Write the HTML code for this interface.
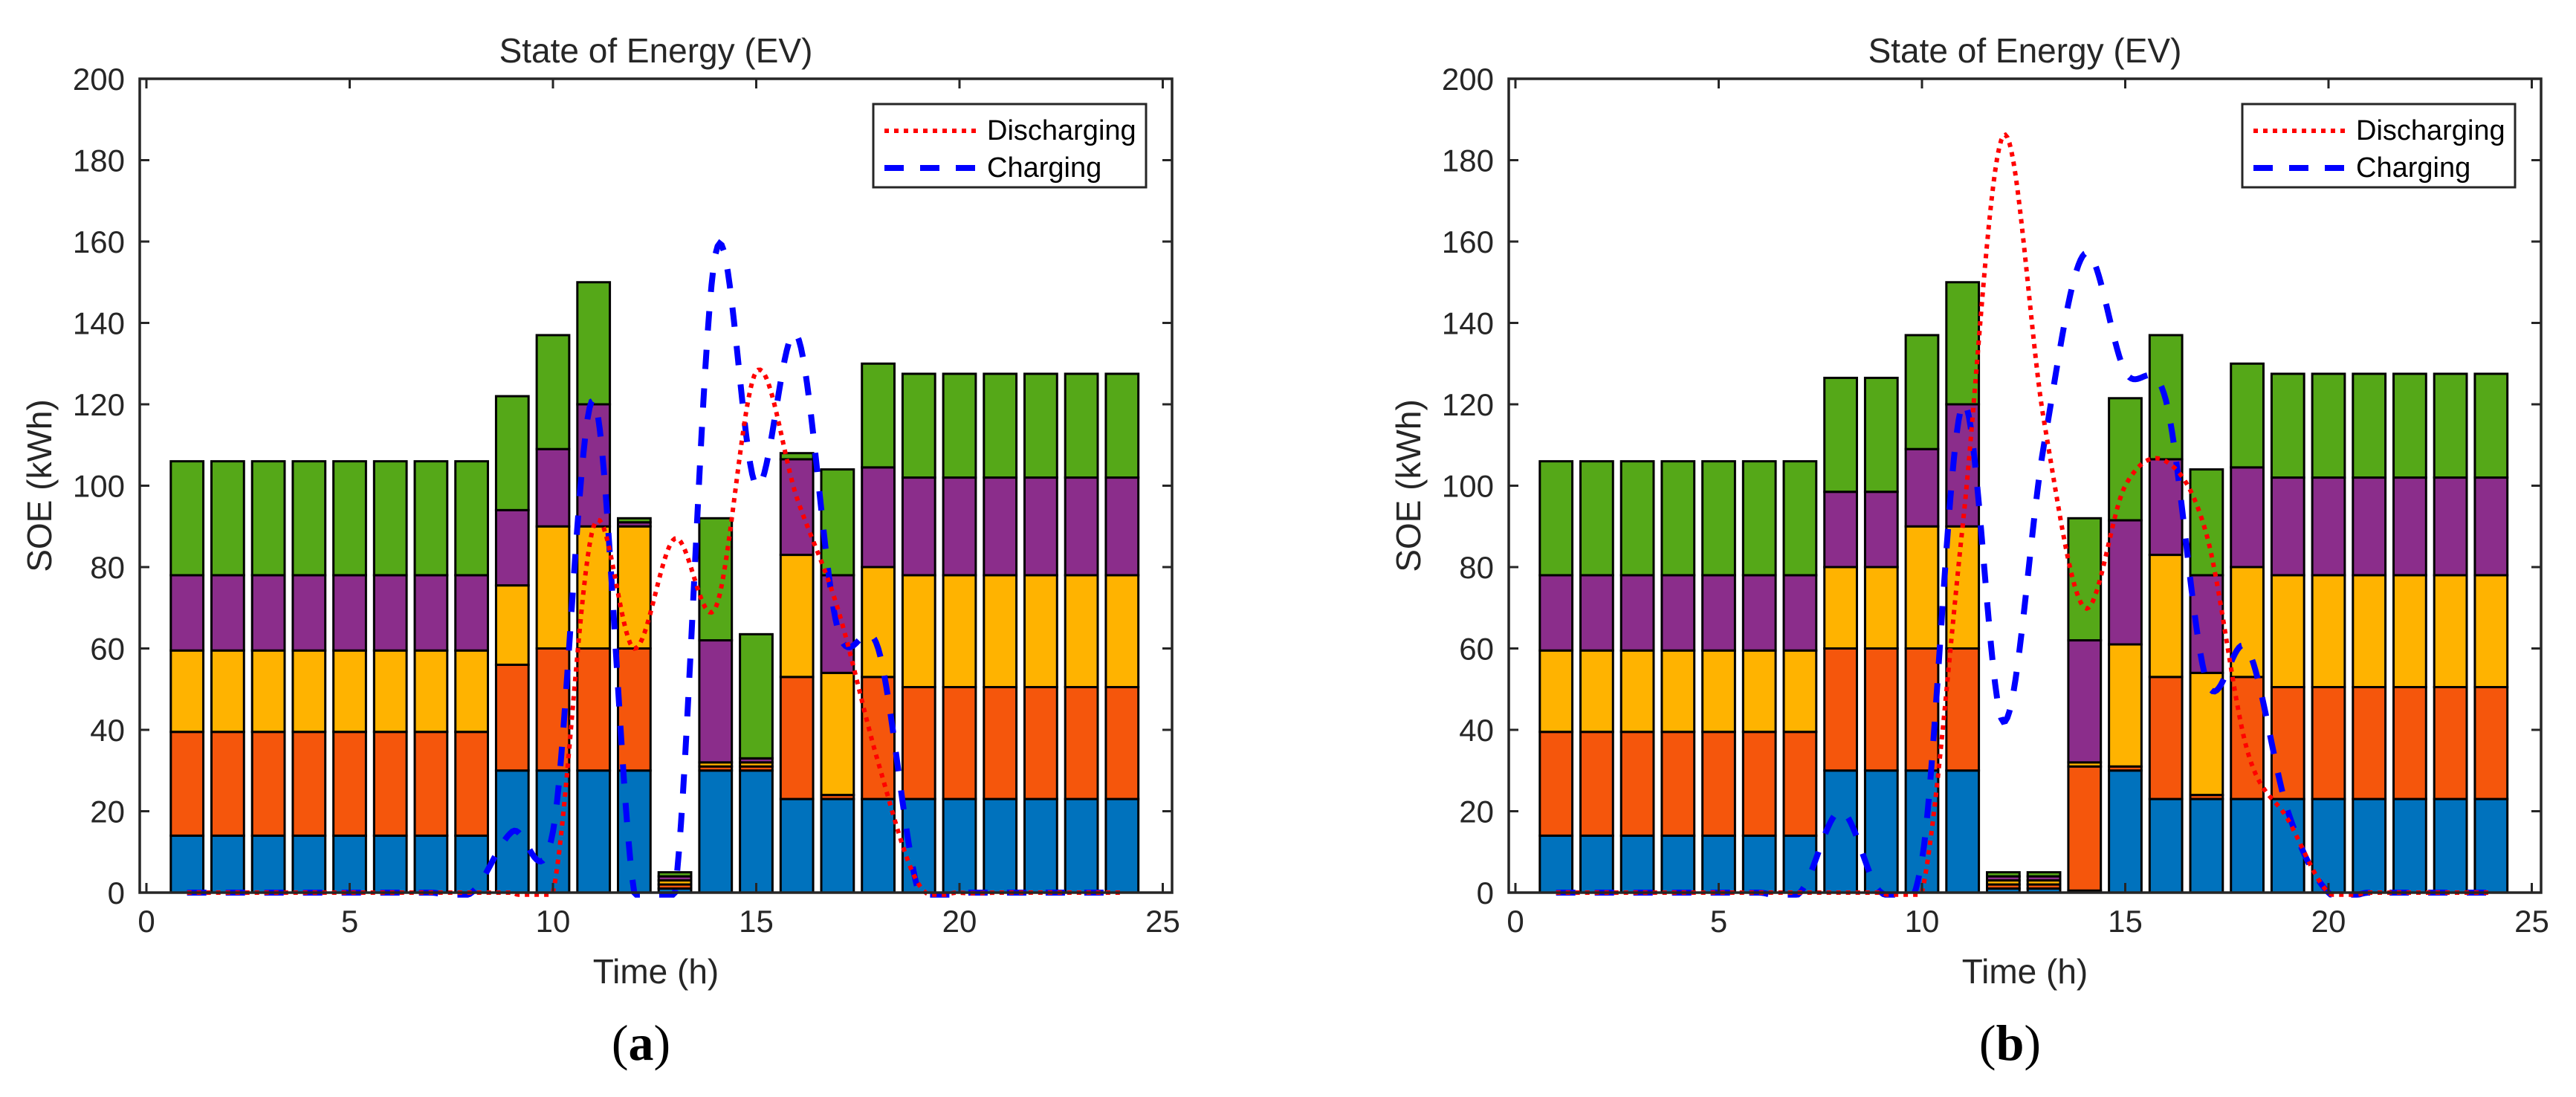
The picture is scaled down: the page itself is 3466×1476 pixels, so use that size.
<!DOCTYPE html>
<html><head><meta charset="utf-8"><style>
html,body{margin:0;padding:0;background:#fff;}
svg{display:block;font-family:"Liberation Sans",Arial,sans-serif;}
</style></head><body>
<svg id="fig" xmlns="http://www.w3.org/2000/svg" width="3466" height="1476" viewBox="0 0 3466 1476"></svg>
<script>
const hours=[1,2,3,4,5,6,7,8,9,10,11,12,13,14,15,16,17,18,19,20,21,22,23,24];
const xTicks=[0,5,10,15,20,25];
const yTicks=[0,20,40,60,80,100,120,140,160,180,200];
const seriesNames=["ev1","ev2","ev3","ev4","ev5"];
// panel (a) stacked segment values (kWh)
const aSeg1=[14,14,14,14,14,14,14,14,30,30,30,30,1,30,30,23,23,23,23,23,23,23,23,23];
const aSeg2=[25.5,25.5,25.5,25.5,25.5,25.5,25.5,25.5,26,30,30,30,1,1,1,30,1,30,27.5,27.5,27.5,27.5,27.5,27.5];
const aSeg3=[20,20,20,20,20,20,20,20,19.5,30,30,30,1,1,1,30,30,27,27.5,27.5,27.5,27.5,27.5,27.5];
const aSeg4=[18.5,18.5,18.5,18.5,18.5,18.5,18.5,18.5,18.5,19,30,1,1,30,1,23.5,24,24.5,24,24,24,24,24,24];
const aSeg5=[28,28,28,28,28,28,28,28,28,28,30,1,1,30,30.5,1.5,26,25.5,25.5,25.5,25.5,25.5,25.5,25.5];
const aDischarging=[0,0,0,0,0,0,0,0,0,0,90,60,87,70,128,97,70,32,2,0,0,0,0,0];
const aCharging=[0,0,0,0,0,0,0,0,15,15,121,0,0,157,100,137,65,60,0,0,0,0,0,0];
// panel (b)
const bSeg1=[14,14,14,14,14,14,14,30,30,30,30,1,1,0.5,30,23,23,23,23,23,23,23,23,23];
const bSeg2=[25.5,25.5,25.5,25.5,25.5,25.5,25.5,30,30,30,30,1,1,30.5,1,30,1,30,27.5,27.5,27.5,27.5,27.5,27.5];
const bSeg3=[20,20,20,20,20,20,20,20,20,30,30,1,1,1,30,30,30,27,27.5,27.5,27.5,27.5,27.5,27.5];
const bSeg4=[18.5,18.5,18.5,18.5,18.5,18.5,18.5,18.5,18.5,19,30,1,1,30,30.5,23.5,24,24.5,24,24,24,24,24,24];
const bSeg5=[28,28,28,28,28,28,28,28,28,28,30,1,1,30,30,30.5,26,25.5,25.5,25.5,25.5,25.5,25.5,25.5];
const bDischarging=[0,0,0,0,0,0,0,0,0,0,90,186,116,70,100,106,88,35,18,0,0,0,0,0];
const bCharging=[0,0,0,0,0,0,0,20,0,8,120,42,110,157,128,121,52,60,20,0,0,0,0,0];

const colors=["#0072BD","#F5560C","#FFB300","#8B2D8B","#55A818"];
const NS="http://www.w3.org/2000/svg";
const fig=document.getElementById('fig');
function mk(tag,attrs,parent){const e=document.createElementNS(NS,tag);for(const k in attrs)e.setAttribute(k,attrs[k]);(parent||fig).appendChild(e);return e;}

function spline(xs,ys){
  const pts=[];
  for(let i=0;i<xs.length-1;i++){
    const y0=ys[Math.max(0,i-1)],y1=ys[i],y2=ys[i+1],y3=ys[Math.min(ys.length-1,i+2)];
    for(let t=0;t<1;t+=0.05){
      const t2=t*t,t3=t2*t;
      const y=0.5*((2*y1)+(-y0+y2)*t+(2*y0-5*y1+4*y2-y3)*t2+(-y0+3*y1-3*y2+y3)*t3);
      pts.push([xs[i]+t*(xs[i+1]-xs[i]),y]);
    }
  }
  pts.push([xs[xs.length-1],ys[ys.length-1]]);
  return pts;
}

function panel(id,dx,segs,dis,chg,letter){
  const L=188+dx,R=1577+dx,T=106,B=1201;
  const x0=197+dx,xs=54.7;
  const X=v=>x0+v*xs, Y=v=>B-v*(B-T)/200;
  const g=mk('g',{});
  
  
  const title=mk('text',{x:(L+R)/2,y:84,'font-size':46,'text-anchor':'middle',fill:'#262626'},g);
  title.textContent='State of Energy (EV)';
  
  
  const barsG=mk('g',{},g);
  
  
  const bw=0.8*xs;
  hours.forEach((h,i)=>{
    let cum=0;
    segs.forEach((s,k)=>{
      const v=s[i];
      const r=mk('rect',{x:X(h)-bw/2,y:Y(cum+v),width:bw,height:Y(cum)-Y(cum+v),fill:colors[k],stroke:'#000','stroke-width':3},barsG);
      
      
      cum+=v;
    });
  });
  const dp=spline(hours,dis).map(p=>X(p[0])+','+Y(Math.max(p[1],-0.5))).join(' ');
  const cp=spline(hours,chg).map(p=>X(p[0])+','+Y(Math.max(p[1],-0.5))).join(' ');
  const cl=mk('polyline',{points:cp,fill:'none',stroke:'#0000FF','stroke-width':8,'stroke-dasharray':'26 26'},g);
  
  
  const dl=mk('polyline',{points:dp,fill:'none',stroke:'#FF0000','stroke-width':6,'stroke-dasharray':'6 7'},g);
  
  
  const box=mk('rect',{x:L,y:T,width:R-L,height:B-T,fill:'none',stroke:'#262626','stroke-width':3.5},g);
  
  
  xTicks.forEach(t=>{
    mk('line',{x1:X(t),y1:B,x2:X(t),y2:B-13,stroke:'#262626','stroke-width':3},g);
    mk('line',{x1:X(t),y1:T,x2:X(t),y2:T+13,stroke:'#262626','stroke-width':3},g);
    const tx=mk('text',{x:X(t),y:1254,'font-size':42,'text-anchor':'middle',fill:'#262626'},g);
    tx.textContent=t;
    
    
  });
  yTicks.forEach(t=>{
    mk('line',{x1:L,y1:Y(t),x2:L+13,y2:Y(t),stroke:'#262626','stroke-width':3},g);
    mk('line',{x1:R,y1:Y(t),x2:R-13,y2:Y(t),stroke:'#262626','stroke-width':3},g);
    const ty=mk('text',{x:L-20,y:Y(t)+15,'font-size':42,'text-anchor':'end',fill:'#262626'},g);
    ty.textContent=t;
    
    
  });
  const xl=mk('text',{x:(L+R)/2,y:1323,'font-size':46,'text-anchor':'middle',fill:'#262626'},g);
  xl.textContent='Time (h)';
  
  
  const yl=mk('text',{x:0,y:0,'font-size':46,'text-anchor':'middle',fill:'#262626',transform:'translate('+(69+dx)+','+((T+B)/2)+') rotate(-90)'},g);
  yl.textContent='SOE (kWh)';
  
  
  const lg=mk('g',{},g);
  
  
  mk('rect',{x:1175+dx,y:140,width:367,height:112,fill:'#fff',stroke:'#262626','stroke-width':3},lg);
  mk('line',{x1:1190+dx,y1:176,x2:1315+dx,y2:176,stroke:'#FF0000','stroke-width':6,'stroke-dasharray':'6 7'},lg);
  mk('line',{x1:1190+dx,y1:226,x2:1315+dx,y2:226,stroke:'#0000FF','stroke-width':8,'stroke-dasharray':'26 22'},lg);
  const l1=mk('text',{x:1328+dx,y:188,'font-size':38,fill:'#000'},lg);
  l1.textContent='Discharging';
  
  
  const l2=mk('text',{x:1328+dx,y:238,'font-size':38,fill:'#000'},lg);
  l2.textContent='Charging';
  
  
  const cap=mk('text',{x:(L+R)/2-20,y:1426,'font-size':68,'text-anchor':'middle','font-family':'"Liberation Serif",serif',fill:'#000'},g);
  cap.innerHTML='(<tspan font-weight="bold">'+letter+'</tspan>)';
  
  
}
panel('panel-a',0,[aSeg1,aSeg2,aSeg3,aSeg4,aSeg5],aDischarging,aCharging,'a');
panel('panel-b',1842,[bSeg1,bSeg2,bSeg3,bSeg4,bSeg5],bDischarging,bCharging,'b');
</script>
</body></html>
